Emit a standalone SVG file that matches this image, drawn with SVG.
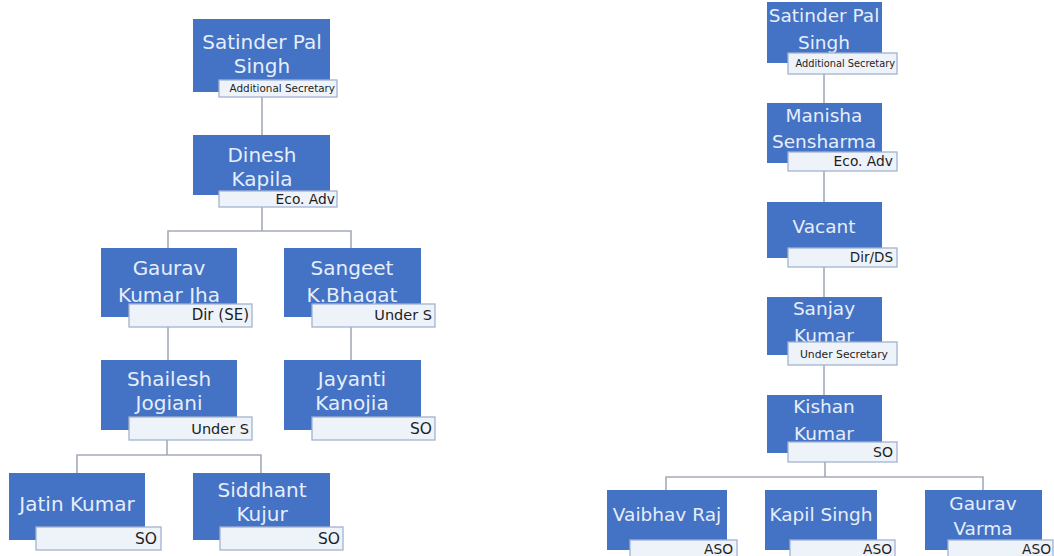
<svg xmlns="http://www.w3.org/2000/svg" width="1054" height="556" viewBox="0 0 1054 556">
<style>
.box{fill:#4472C4}
.lab{fill:#EEF2F9;stroke:#A3B2CF;stroke-width:1.3}
.nm{font-family:"DejaVu Sans","Liberation Sans",sans-serif;fill:#E6EEFA;text-anchor:middle}
.n20{font-size:20px}
.n17{font-size:18.5px}
.t{font-family:"DejaVu Sans","Liberation Sans",sans-serif;fill:#1E1E1E;text-anchor:end}
.c{fill:none;stroke:#A4ABB8;stroke-width:1.6}
</style>
<rect width="1054" height="556" fill="#FFFFFF"/>
<g id="connectors">
<path class="c" d="M262 97V135"/>
<path class="c" d="M262 207V231M168 248V231H351V248"/>
<path class="c" d="M168 327V360"/>
<path class="c" d="M351 327V360"/>
<path class="c" d="M167 440V455M77 473V455H261V473"/>
<path class="c" d="M824 74V103"/>
<path class="c" d="M824 171V202"/>
<path class="c" d="M824 267V297"/>
<path class="c" d="M824 365V395"/>
<path class="c" d="M825 462V477M666 490V477H983V490"/>
</g>
<g id="n-satinder-left">
<rect class="box" x="193" y="19" width="137" height="73"/>
<text class="nm n20" x="262" y="49">Satinder Pal</text>
<text class="nm n20" x="262" y="73">Singh</text>
<rect class="lab" x="219" y="80" width="118" height="17"/>
<text class="t" x="335" y="92" font-size="10.4">Additional Secretary</text>
</g>
<g id="n-dinesh">
<rect class="box" x="193" y="135" width="137" height="60"/>
<text class="nm n20" x="262" y="162">Dinesh</text>
<text class="nm n20" x="262" y="186">Kapila</text>
<rect class="lab" x="219" y="191" width="118" height="16"/>
<text class="t" x="335" y="204" font-size="13.8">Eco. Adv</text>
</g>
<g id="n-gaurav-jha">
<rect class="box" x="101" y="248" width="136" height="69"/>
<text class="nm n20" x="169" y="275">Gaurav</text>
<text class="nm n20" x="169" y="302">Kumar Jha</text>
<rect class="lab" x="129" y="304" width="123" height="23"/>
<text class="t" x="249" y="320" font-size="15">Dir (SE)</text>
</g>
<g id="n-sangeet">
<rect class="box" x="284" y="248" width="137" height="69"/>
<text class="nm n20" x="352" y="275">Sangeet</text>
<text class="nm n20" x="352" y="302">K.Bhagat</text>
<rect class="lab" x="312" y="304" width="123" height="23"/>
<text class="t" x="432" y="320" font-size="14.5">Under S</text>
</g>
<g id="n-shailesh">
<rect class="box" x="101" y="360" width="136" height="70"/>
<text class="nm n20" x="169" y="386">Shailesh</text>
<text class="nm n20" x="169" y="410">Jogiani</text>
<rect class="lab" x="129" y="417" width="123" height="23"/>
<text class="t" x="249" y="434" font-size="14.5">Under S</text>
</g>
<g id="n-jayanti">
<rect class="box" x="284" y="360" width="137" height="70"/>
<text class="nm n20" x="352" y="386">Jayanti</text>
<text class="nm n20" x="352" y="410">Kanojia</text>
<rect class="lab" x="312" y="417" width="123" height="23"/>
<text class="t" x="432" y="434" font-size="15.5">SO</text>
</g>
<g id="n-jatin">
<rect class="box" x="9" y="473" width="136" height="67"/>
<text class="nm n20" x="77" y="511">Jatin Kumar</text>
<rect class="lab" x="36" y="527" width="125" height="23"/>
<text class="t" x="157" y="544" font-size="15.5">SO</text>
</g>
<g id="n-siddhant">
<rect class="box" x="193" y="473" width="137" height="67"/>
<text class="nm n20" x="262" y="497">Siddhant</text>
<text class="nm n20" x="262" y="521">Kujur</text>
<rect class="lab" x="220" y="527" width="123" height="23"/>
<text class="t" x="340" y="544" font-size="15.5">SO</text>
</g>
<g id="n-satinder-right">
<rect class="box" x="767" y="2" width="115" height="61"/>
<text class="nm n17" x="824" y="22">Satinder Pal</text>
<text class="nm n17" x="824" y="49">Singh</text>
<rect class="lab" x="788" y="53" width="109" height="21"/>
<text class="t" x="895" y="67" font-size="9.8">Additional Secretary</text>
</g>
<g id="n-manisha">
<rect class="box" x="767" y="103" width="115" height="60"/>
<text class="nm n17" x="824" y="122">Manisha</text>
<text class="nm n17" x="824" y="148">Sensharma</text>
<rect class="lab" x="788" y="152" width="109" height="19"/>
<text class="t" x="893" y="166" font-size="13.8">Eco. Adv</text>
</g>
<g id="n-vacant">
<rect class="box" x="767" y="202" width="115" height="56"/>
<text class="nm n17" x="824" y="233">Vacant</text>
<rect class="lab" x="788" y="248" width="109" height="19"/>
<text class="t" x="893" y="262" font-size="13.5">Dir/DS</text>
</g>
<g id="n-sanjay">
<rect class="box" x="767" y="297" width="115" height="58"/>
<text class="nm n17" x="824" y="315">Sanjay</text>
<text class="nm n17" x="824" y="342">Kumar</text>
<rect class="lab" x="788" y="342" width="109" height="23"/>
<text class="t" x="888" y="358" font-size="10.8">Under Secretary</text>
</g>
<g id="n-kishan">
<rect class="box" x="767" y="395" width="115" height="58"/>
<text class="nm n17" x="824" y="413">Kishan</text>
<text class="nm n17" x="824" y="440">Kumar</text>
<rect class="lab" x="788" y="442" width="109" height="20"/>
<text class="t" x="893" y="457" font-size="14">SO</text>
</g>
<g id="n-vaibhav">
<rect class="box" x="607" y="490" width="120" height="60"/>
<text class="nm n17" x="667" y="521">Vaibhav Raj</text>
<rect class="lab" x="630" y="540" width="107" height="20"/>
<text class="t" x="733" y="554" font-size="13.8">ASO</text>
</g>
<g id="n-kapil">
<rect class="box" x="765" y="490" width="112" height="60"/>
<text class="nm n17" x="821" y="521">Kapil Singh</text>
<rect class="lab" x="790" y="540" width="105" height="20"/>
<text class="t" x="892" y="554" font-size="13.8">ASO</text>
</g>
<g id="n-gaurav-varma">
<rect class="box" x="925" y="490" width="117" height="60"/>
<text class="nm n17" x="983" y="510">Gaurav</text>
<text class="nm n17" x="983" y="535">Varma</text>
<rect class="lab" x="948" y="540" width="105" height="20"/>
<text class="t" x="1051" y="554" font-size="13.8">ASO</text>
</g>
</svg>
